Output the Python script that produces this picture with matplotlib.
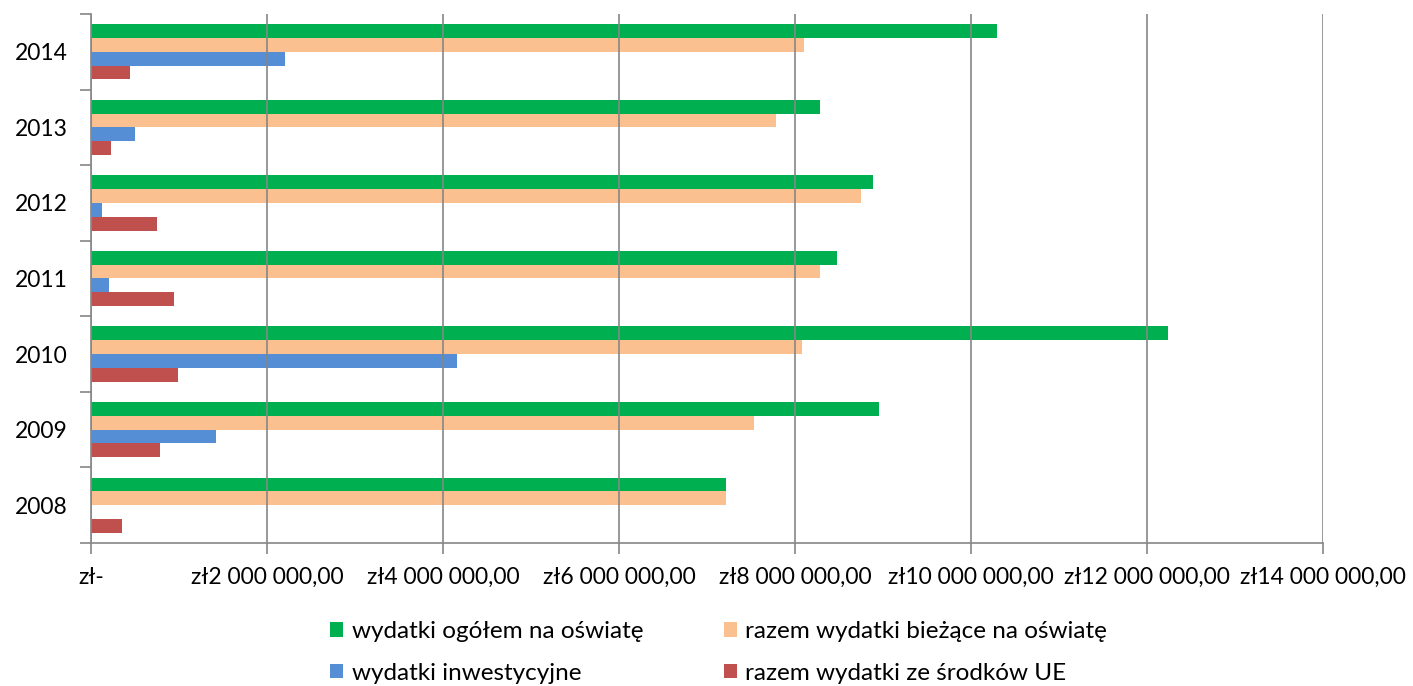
import matplotlib
matplotlib.use("Agg")
import matplotlib.pyplot as plt
import numpy as np
from matplotlib.patches import Patch

years = ["2008", "2009", "2010", "2011", "2012", "2013", "2014"]
total = [7.22e6, 8.95e6, 12.24e6, 8.48e6, 8.89e6, 8.28e6, 10.30e6]
current = [7.22e6, 7.53e6, 8.08e6, 8.28e6, 8.75e6, 7.78e6, 8.10e6]
invest = [0.0, 1.42e6, 4.16e6, 0.20e6, 0.125e6, 0.50e6, 2.20e6]
eu = [0.35e6, 0.78e6, 0.99e6, 0.94e6, 0.75e6, 0.23e6, 0.44e6]
series_names = ["wydatki ogółem na oświatę", "razem wydatki bieżące na oświatę",
                "wydatki inwestycyjne", "razem wydatki ze środków UE"]
colors = ["#00B050", "#FAC090", "#558ED5", "#C0504D"]
xticks = [0, 2e6, 4e6, 6e6, 8e6, 10e6, 12e6, 14e6]
xticklabels = ["zł-", "zł2 000 000,00", "zł4 000 000,00", "zł6 000 000,00",
               "zł8 000 000,00", "zł10 000 000,00", "zł12 000 000,00", "zł14 000 000,00"]

plt.rcParams['font.family'] = ['Lato', 'DejaVu Sans']

fig = plt.figure(figsize=(14.13, 6.86), dpi=100)
ax = fig.add_axes([91/1413, 1-543/686, (1323-91)/1413, (543-14)/686])

h = 0.183
y = np.arange(len(years))
offsets = [1.5*h, 0.5*h, -0.5*h, -1.5*h]
for vals, off, c in zip([total, current, invest, eu], offsets, colors):
    ax.barh(y + off, vals, height=h, color=c, zorder=2, linewidth=0)

ax.set_ylim(-0.5, len(years) - 0.5)
ax.set_xlim(0, 14e6)
ax.set_xticks(xticks)
ax.set_xticklabels(xticklabels, fontsize=16.5)
ax.set_yticks(y)
ax.set_yticklabels(years, fontsize=16.5)
ax.set_yticks(np.arange(-0.5, len(years)), minor=True)
ax.tick_params(axis='y', which='major', length=0, pad=17)
ax.tick_params(axis='y', which='minor', length=8, color='#868686', width=1.2, direction='out')
ax.tick_params(axis='x', which='major', length=8, color='#868686', width=1.2, direction='out', pad=9)
ax.grid(axis='x', color='#868686', linewidth=1.2, zorder=3)
ax.set_axisbelow(False)
for s in ['top', 'right']:
    ax.spines[s].set_visible(False)
for s in ['left', 'bottom']:
    ax.spines[s].set_color('#868686')
    ax.spines[s].set_linewidth(1.2)
    ax.spines[s].set_zorder(4)

order = [0, 2, 1, 3]
handles = [Patch(facecolor=colors[i], edgecolor='none') for i in order]
labels = [series_names[i] for i in order]
fig.legend(handles, labels, loc='upper left', bbox_to_anchor=(330/1413, 1-621/686),
           ncol=2, frameon=False, fontsize=17.5, handlelength=0.55, handleheight=0.55,
           handletextpad=0.35, columnspacing=3.3, labelspacing=0.85,
           borderpad=0, borderaxespad=0)

fig.savefig("out.png", dpi=100)
